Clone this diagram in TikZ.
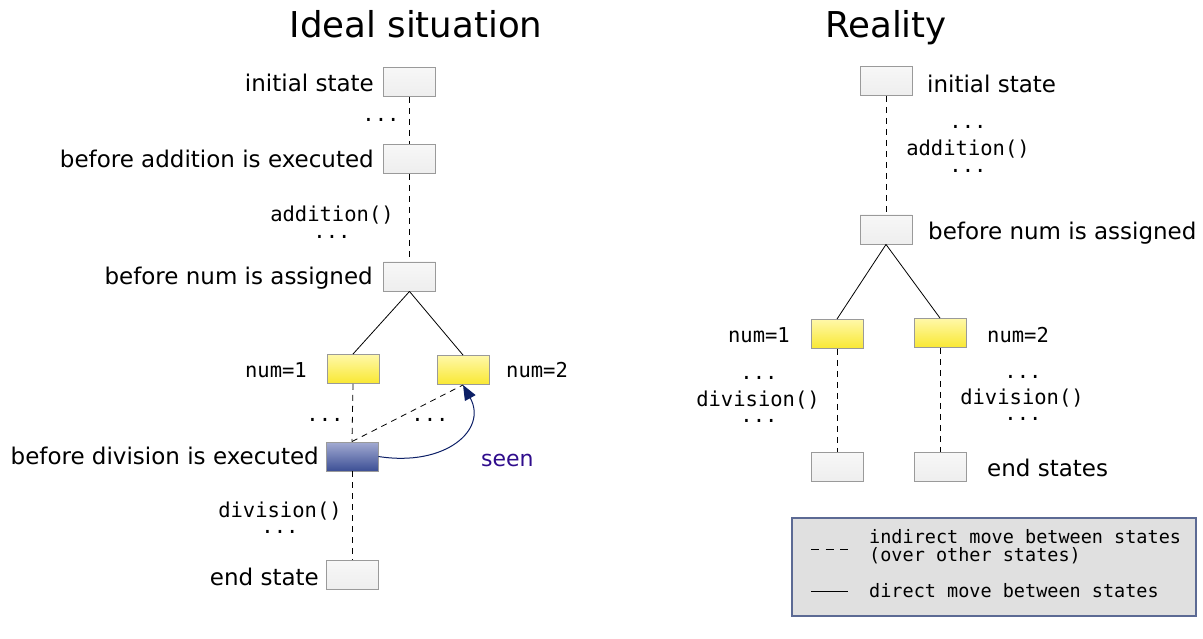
\documentclass[tikz,border=0pt]{standalone}
\usepackage{fontspec}
\setmainfont{DejaVu Sans}
\setmonofont{DejaVu Sans Mono}
\usetikzlibrary{arrows.meta}

\definecolor{boxgray}{HTML}{9A9A9A}
\definecolor{stTop}{HTML}{F7F7F7}
\definecolor{stBot}{HTML}{EEEEEE}
\definecolor{yelTop}{HTML}{FFF8A8}
\definecolor{yelBot}{HTML}{F9E833}
\definecolor{bluTop}{HTML}{A3ABD2}
\definecolor{bluBot}{HTML}{3C4F95}
\definecolor{seenInk}{HTML}{2F0C8C}
\definecolor{arrowInk}{HTML}{0C1F66}
\definecolor{keyFill}{HTML}{E0E0E0}
\definecolor{keyEdge}{HTML}{5C6A94}

\tikzset{
  statebox/.style={draw=boxgray, line width=0.9pt, minimum width=52pt,
    minimum height=29pt, inner sep=0pt, top color=stTop, bottom color=stBot},
  choicebox/.style={statebox, top color=yelTop, bottom color=yelBot},
  activebox/.style={statebox, top color=bluTop, bottom color=bluBot},
  title/.style={font=\fontsize{35.6}{40}\selectfont, inner sep=0pt, anchor=base},
  lbl/.style={font=\fontsize{23}{27}\selectfont, inner sep=0pt},
  code/.style={font=\ttfamily\fontsize{20.5}{24}\selectfont, inner sep=0pt, anchor=base},
  keytext/.style={font=\ttfamily\fontsize{18.5}{18}\selectfont, inner sep=0pt, anchor=base west},
  indirect/.style={line width=0.8pt, dash pattern=on 6pt off 5pt},
  direct/.style={line width=0.8pt},
  seenarrow/.style={draw=arrowInk, line width=1pt,
    -{Triangle[length=15pt, width=12pt, fill=arrowInk]}},
}

\begin{document}
\begin{tikzpicture}[x=1pt, y=-1pt]
\useasboundingbox (0,0) rectangle (1203,639);

% ---------- left: ideal situation ----------
\node[title] (tl) at (416,38) {Ideal situation};

\node[statebox]  (Li) at (409.5,82)   {};
\node[statebox]  (La) at (409.5,159)  {};
\node[statebox]  (Ln) at (409.5,276.5) {};
\node[choicebox] (L1) at (353,369)    {};
\node[choicebox] (L2) at (463,370)    {};
\node[activebox] (Ld) at (352,456.5)  {};
\node[statebox]  (Le) at (352,575)    {};

\node[lbl, anchor=base east] (Lit) at (374,92)  {initial state};
\node[lbl, anchor=base east] (Lat) at (374,168) {before addition is executed};
\node[lbl, anchor=base east] (Lnt) at (373,285) {before num is assigned};
\node[code, anchor=base east] (L1t) at (307,377) {num=1};
\node[code, anchor=base west] (L2t) at (506,377) {num=2};
\node[lbl, anchor=base east] (Ldt) at (319,464) {before division is executed};
\node[lbl, anchor=base east] (Let) at (319,585) {end state};

\node[code] (Lc1) at (381,122) {...};
\node[code] (Lc2) at (332,222) {addition()};
\node[code] (Lc3) at (332,239) {...};
\node[code] (Lc4) at (325,421) {...};
\node[code] (Lc5) at (430,421) {...};
\node[code] (Lc6) at (280,517) {division()};
\node[code] (Lc7) at (280,533) {...};

\draw[indirect] (Li.south) -- (La.north);
\draw[indirect] (La.south) -- (Ln.north);
\draw[direct]   (Ln.south) -- (L1.north);
\draw[direct]   (Ln.south) -- (L2.north);
\draw[indirect] (L1.south) -- (Ld.north);
\draw[indirect] (Ld.north) -- (L2.south);
\draw[indirect] (Ld.south) -- (Le.north);

\draw[seenarrow] (Ld.east) .. controls (445,467) and (488,430) .. (L2.south);
\node[lbl, font=\fontsize{22}{26}\selectfont, text=seenInk, anchor=base west]
  (seen) at (481,466) {seen};

% ---------- right: reality ----------
\node[title] (tr) at (886,38) {Reality};

\node[statebox]  (Ri)  at (886,81)    {};
\node[statebox]  (Rn)  at (886,229.5) {};
\node[choicebox] (R1)  at (837,334)   {};
\node[choicebox] (R2)  at (940,333)   {};
\node[statebox]  (Re1) at (837,467)   {};
\node[statebox]  (Re2) at (940,467)   {};

\node[lbl, anchor=base west] (Rit) at (927,93)  {initial state};
\node[lbl, anchor=base west] (Rnt) at (928,240) {before num is assigned};
\node[code, anchor=base east] (R1t) at (790,342) {num=1};
\node[code, anchor=base west] (R2t) at (987,342) {num=2};
\node[lbl, anchor=base west] (Ret) at (987,476) {end states};

\node[code] (Rc1) at (968,129) {...};
\node[code] (Rc2) at (968,156) {addition()};
\node[code] (Rc3) at (968,173) {...};
\node[code] (Rc4) at (759,379) {...};
\node[code] (Rc5) at (758,406) {division()};
\node[code] (Rc6) at (759,422) {...};
\node[code] (Rc7) at (1023,378) {...};
\node[code] (Rc8) at (1022,404) {division()};
\node[code] (Rc9) at (1023,420) {...};

\draw[indirect] (Ri.south) -- (Rn.north);
\draw[direct]   (Rn.south) -- (R1.north);
\draw[direct]   (Rn.south) -- (R2.north);
\draw[indirect] (R1.south) -- (Re1.north);
\draw[indirect] (R2.south) -- (Re2.north);

% ---------- legend ----------
\node[draw=keyEdge, line width=1.6pt, fill=keyFill, minimum width=404pt,
  minimum height=98pt, inner sep=0pt] (key) at (994,567) {};
\coordinate (ka) at (811,549);
\coordinate (kb) at (848,549);
\coordinate (kc) at (811,591);
\coordinate (kd) at (848,591);
\draw[line width=0.8pt, dash pattern=on 8pt off 6.5pt] (ka) -- (kb);
\draw[direct] (kc) -- (kd);
\node[keytext] (k1) at (869,543) {indirect move between states};
\node[keytext] (k2) at (869,561) {(over other states)};
\node[keytext] (k3) at (869,597) {direct move between states};
\end{tikzpicture}
\end{document}
